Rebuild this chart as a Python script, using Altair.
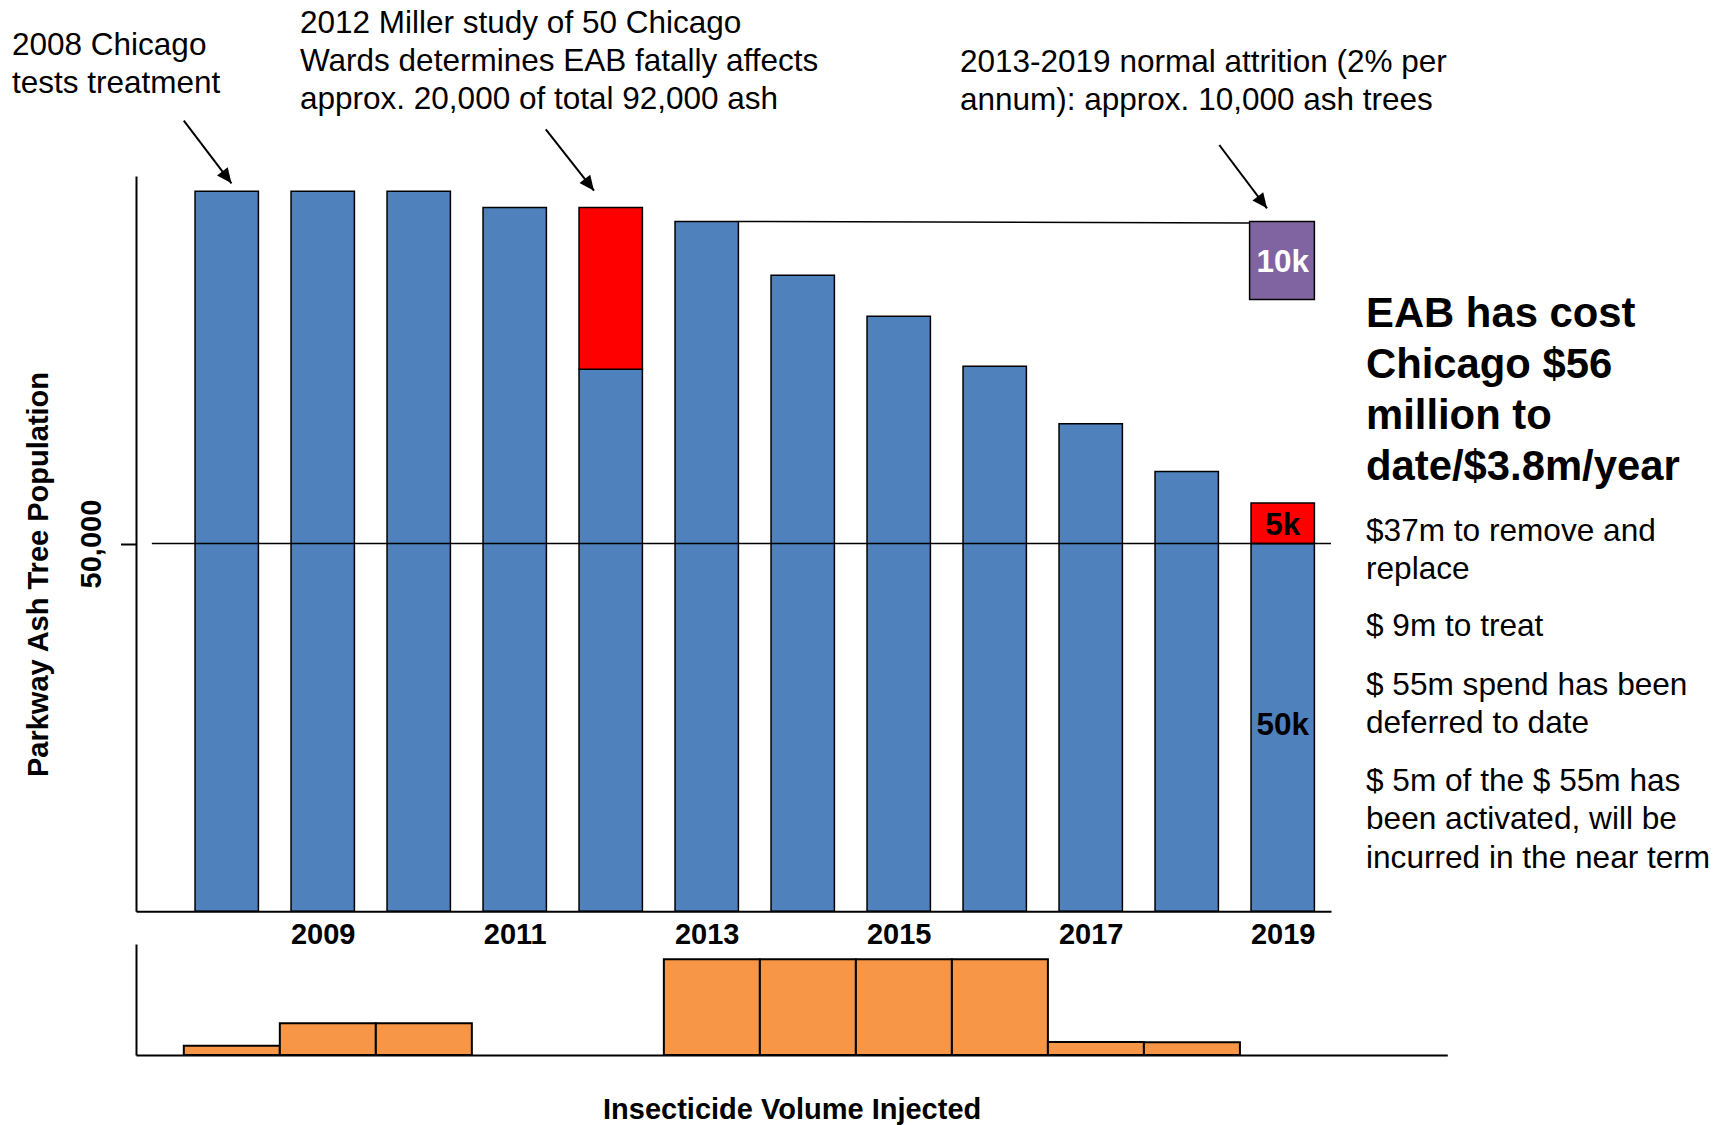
import altair as alt
import pandas as pd

FONT = "Liberation Sans"

# ---------------- data ----------------
years = [2008, 2009, 2010, 2011, 2012, 2013, 2014, 2015, 2016, 2017, 2018, 2019]
healthy_ash = [97900, 97900, 97900, 95700, 73700, 93800, 86500, 80900, 74100, 66300, 59800, 50000]
eab_killed = [0, 0, 0, 0, 22000, 0, 0, 0, 0, 0, 0, 5500]
attrition_year = [2019]
attrition_low = [83200]
attrition_high = [93800]
insecticide_volume = [8.4, 28.6, 28.6, 0, 0, 86.2, 86.2, 86.2, 86.2, 11.7, 11.4, 0]
year_ticks = [2009, 2011, 2013, 2015, 2017, 2019]
bar_label_text = ["10k", "5k", "50k"]
bar_label_year = [2019, 2019, 2019]
bar_label_value = [88500, 52750, 25600]

annotation_1 = ["2008 Chicago", "tests treatment"]
annotation_2 = ["2012 Miller study of 50 Chicago", "Wards determines EAB fatally affects",
                "approx. 20,000 of total 92,000 ash"]
annotation_3 = ["2013-2019 normal attrition (2% per", "annum): approx. 10,000 ash trees"]
headline = ["EAB has cost", "Chicago $56", "million to", "date/$3.8m/year"]
notes = [
    ["$37m to remove and", "replace"],
    ["$ 9m to treat"],
    ["$ 55m spend has been", "deferred to date"],
    ["$ 5m of the $ 55m has", "been activated, will be", "incurred in the near term"],
]

pop_df = pd.DataFrame({"year": years, "healthy": healthy_ash, "killed": eab_killed})
pop_df["total"] = pop_df["healthy"] + pop_df["killed"]
attr_df = pd.DataFrame({"year": attrition_year, "low": attrition_low, "high": attrition_high})
vol_df = pd.DataFrame({"year": years, "volume": insecticide_volume})
lab_df = pd.DataFrame({"label": bar_label_text, "year": bar_label_year, "value": bar_label_value})
i2013 = years.index(2013)
link_df = pd.DataFrame({"x0": [2013 + 0.33], "x1": [attrition_year[0] - 0.345],
                        "y0": [healthy_ash[i2013]], "y1": [attrition_high[0] - 200]})
grid_df = pd.DataFrame({"x0": [2007.22], "x1": [2019.503], "y": [50000]})

BLUE = "#4F81BD"
RED = "#FF0000"
PURPLE = "#8064A2"
ORANGE = "#F79646"

# ---------------- top chart (population) ----------------
top_x = alt.Scale(domain=[2007.055, 2019.503], range=[136, 1331], nice=False, zero=False)
top_y = alt.Scale(domain=[0, 100000], range=[911.2, 175.9], nice=False, zero=False)

x_axis_top = alt.Axis(orient="bottom", offset=-213.8, values=year_ticks, format="d",
                      ticks=False, tickSize=0, grid=False, title=None,
                      labelFont=FONT, labelFontSize=29, labelFontWeight="bold",
                      labelColor="black", labelPadding=9.3, labelFlush=False,
                      labelOverlap=False, domainColor="black", domainWidth=2, zindex=1)
y_axis_top = alt.Axis(orient="left", offset=-136, values=[50000], format=",d",
                      tickSize=15.5, tickColor="black", tickWidth=2, grid=False,
                      labelAngle=270, labelAlign="center", labelBaseline="bottom",
                      labelPadding=14, labelFont=FONT, labelFontSize=29,
                      labelFontWeight="bold", labelColor="black", labelFlush=False,
                      domainColor="black", domainWidth=2,
                      title="Parkway Ash Tree Population", titleFont=FONT,
                      titleFontSize=29, titleFontWeight="bold", titleColor="black",
                      titleAngle=270, titleAlign="center", titleBaseline="alphabetic",
                      titleX=-88.5, titleY=574, zindex=1)


def tx(field):
    return alt.X(field, scale=top_x, axis=x_axis_top)


def ty(field):
    return alt.Y(field, scale=top_y, axis=y_axis_top)


pop_base = alt.Chart(pop_df).transform_calculate(
    left="datum.year - 0.33", right="datum.year + 0.33")

blue = pop_base.mark_bar(color=BLUE, stroke="black", strokeWidth=1.5).encode(
    x=tx("left:Q"), x2="right:Q",
    y=ty("healthy:Q"), y2=alt.datum(0),
)
red = pop_base.transform_filter("datum.killed > 0").mark_bar(
    color=RED, stroke="black", strokeWidth=1.5).encode(
    x=tx("left:Q"), x2="right:Q",
    y=ty("healthy:Q"), y2="total:Q",
)
purple = alt.Chart(attr_df).transform_calculate(
    left="datum.year - 0.345", right="datum.year + 0.33").mark_bar(
    color=PURPLE, stroke="black", strokeWidth=1.5).encode(
    x=tx("left:Q"), x2="right:Q",
    y=ty("low:Q"), y2="high:Q",
)
link = alt.Chart(link_df).mark_rule(color="black", strokeWidth=1.5).encode(
    x=tx("x0:Q"), x2="x1:Q",
    y=ty("y0:Q"), y2="y1:Q",
)
grid50 = alt.Chart(grid_df).mark_rule(color="black", strokeWidth=1.5).encode(
    x=tx("x0:Q"), x2="x1:Q",
    y=ty("y:Q"),
)
labels = alt.Chart(lab_df).mark_text(font=FONT, fontSize=31.5, fontWeight="bold",
                                     baseline="middle", align="center", dy=3).encode(
    x=tx("year:Q"),
    y=ty("value:Q"),
    text="label:N",
    color=alt.Color("label:N", scale=alt.Scale(domain=bar_label_text,
                                               range=["white", "black", "black"]),
                    legend=None),
)
top_group = alt.layer(blue, red, purple, grid50, link, labels)

# ---------------- bottom chart (insecticide) ----------------
bot_x = alt.Scale(domain=[2007.002, 2020.66], range=[136, 1447.3], nice=False, zero=False)
bot_y = alt.Scale(domain=[0, 100], range=[1055, 944], nice=False, zero=False)

orange = alt.Chart(vol_df).transform_filter("datum.volume > 0").transform_calculate(
    left="datum.year - 0.5", right="datum.year + 0.5").mark_bar(
    color=ORANGE, stroke="black", strokeWidth=2).encode(
    x=alt.X("left:Q", scale=bot_x,
            axis=alt.Axis(orient="bottom", offset=-70, labels=False, ticks=False,
                          grid=False, domainColor="black", domainWidth=2,
                          title="Insecticide Volume Injected", titleFont=FONT,
                          titleFontSize=29, titleFontWeight="bold", titleColor="black",
                          titleBaseline="alphabetic", titleY=63.4, zindex=1)),
    x2="right:Q",
    y=alt.Y("volume:Q", scale=bot_y,
            axis=alt.Axis(orient="left", offset=-136, labels=False, ticks=False,
                          grid=False, title=None, domainColor="black", domainWidth=2,
                          zindex=1)),
    y2=alt.datum(0),
)
bottom_group = alt.layer(orange)

# ---------------- annotations ----------------
def text_block(lines, x, y, size, line_height, weight="normal"):
    return alt.Chart(pd.DataFrame({"t": ["\n".join(lines)]})).mark_text(
        font=FONT, fontSize=size, fontWeight=weight, align="left",
        baseline="alphabetic", lineBreak="\n", lineHeight=line_height,
        color="black").encode(text="t:N", x=alt.value(x), y=alt.value(y))


ARROW_HEAD = "M0,0L-0.45,-1L0.45,-1Z"


def arrow(x0, y0, x1, y1):
    one = pd.DataFrame({"a": [0]})
    line = alt.Chart(one).mark_rule(color="black", strokeWidth=2).encode(
        x=alt.value(x0), y=alt.value(y0), x2=alt.value(x1), y2=alt.value(y1))
    head = alt.Chart(one).mark_point(shape=ARROW_HEAD, filled=True, size=900,
                                     angle=322.5, color="black", opacity=1).encode(
        x=alt.value(x1), y=alt.value(y1))
    return [line, head]


ann_layers = [
    text_block(annotation_1, 12, 55, 31.5, 38),
    text_block(annotation_2, 300, 33, 31.5, 37.8),
    text_block(annotation_3, 960, 71.5, 31.5, 38.2),
    text_block(headline, 1366, 327, 41.8, 51, "bold"),
]
note_baselines = [541, 636.4, 694.5, 791]
for lines, yb in zip(notes, note_baselines):
    ann_layers.append(text_block(lines, 1366, yb, 31.6, 38.4))

ann_layers += arrow(183.8, 120.7, 231.5, 183.3)
ann_layers += arrow(545.8, 129.3, 594.0, 190.7)
ann_layers += arrow(1219.3, 145.0, 1267.0, 208.3)

chart = alt.layer(top_group, bottom_group, *ann_layers).resolve_scale(
    x="independent", y="independent"
).properties(
    width=1720, height=1125, padding=0,
    autosize=alt.AutoSizeParams(type="none"),
).configure_view(stroke=None)

chart.save("out.html", embed_options={"renderer": "svg", "actions": False})
